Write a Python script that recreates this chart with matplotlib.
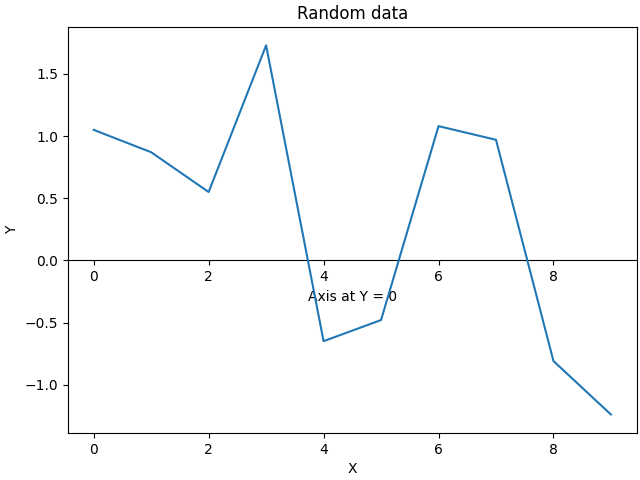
import numpy as np
import matplotlib
matplotlib.use("Agg")
import matplotlib.pyplot as plt

x = np.arange(10)
y = [1.05, 0.87, 0.55, 1.73, -0.65, -0.48, 1.08, 0.97, -0.81, -1.24]

fig, ax = plt.subplots(figsize=(6.4, 4.8), dpi=100)
ax.plot(x, y)
ax.set_title("Random data")
ax.set_xlabel("X")
ax.set_ylabel("Y")

# extra x axis drawn through y = 0
sec = ax.secondary_xaxis(0, transform=ax.transData)
sec.set_xlabel("Axis at Y = 0")

fig.subplots_adjust(left=0.106, right=0.995, top=0.944, bottom=0.098)
fig.savefig("out.png")
